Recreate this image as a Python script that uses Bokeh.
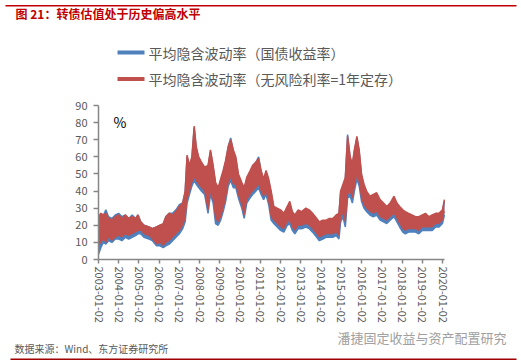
import pandas as pd
from bokeh.plotting import figure
from bokeh.models import ColumnDataSource, FixedTicker, Label, BoxAnnotation
from bokeh.embed import file_html
from bokeh.resources import INLINE

# ---------------- data (band envelopes) ----------------
dates = ["2003-01-02", "2003-02-15", "2003-04-01", "2003-05-15", "2003-07-01",
         "2003-09-01", "2003-11-01", "2004-01-01", "2004-03-01", "2004-05-01",
         "2004-07-01", "2004-09-01", "2004-11-01", "2004-12-15", "2005-02-01",
         "2005-04-01", "2005-07-01", "2005-09-01", "2005-11-15", "2006-01-15",
         "2006-03-15", "2006-05-01", "2006-07-01", "2006-09-01", "2006-11-01",
         "2007-01-01", "2007-03-01", "2007-04-15", "2007-05-20", "2007-07-01",
         "2007-08-15", "2007-09-25", "2007-11-01", "2007-12-15", "2008-02-01",
         "2008-04-01", "2008-06-01", "2008-07-15", "2008-09-01", "2008-10-15",
         "2008-12-01", "2009-01-15", "2009-03-01", "2009-04-15", "2009-06-01",
         "2009-07-15", "2009-09-01", "2009-10-15", "2009-12-01", "2010-02-01",
         "2010-03-15", "2010-05-01", "2010-07-01", "2010-08-15", "2010-10-15",
         "2010-12-01", "2011-01-15", "2011-03-01", "2011-04-15", "2011-06-01",
         "2011-07-15", "2011-09-01", "2011-11-01", "2012-01-01", "2012-03-01",
         "2012-05-01", "2012-06-15", "2012-08-01", "2012-09-15", "2012-11-15",
         "2013-01-15", "2013-04-01", "2013-06-01", "2013-08-01", "2013-10-15",
         "2013-12-01", "2014-02-01", "2014-04-01", "2014-06-01", "2014-08-01",
         "2014-10-01", "2014-11-20", "2014-12-20", "2015-02-01", "2015-03-15",
         "2015-04-25", "2015-06-10", "2015-07-20", "2015-08-25", "2015-10-10",
         "2015-11-20", "2016-01-01", "2016-02-15", "2016-04-01", "2016-06-01",
         "2016-08-01", "2016-10-01", "2016-12-01", "2017-02-01", "2017-04-01",
         "2017-06-01", "2017-08-10", "2017-10-01", "2017-11-20", "2018-01-15",
         "2018-03-01", "2018-05-01", "2018-07-01", "2018-09-01", "2018-11-01",
         "2019-01-01", "2019-03-01", "2019-05-01", "2019-07-01", "2019-09-01",
         "2019-11-01", "2020-01-01", "2020-02-05"]

# red: 平均隐含波动率（无风险利率=1年定存）, upper / lower envelope
red_hi = [25, 27, 26, 27, 24, 23, 25, 26, 24, 26,
          24, 25, 24, 26, 22, 20, 19, 18, 19, 20,
          21, 25, 27, 26, 28, 31, 33, 40, 61, 55,
          60, 78, 66, 60, 57, 54, 55, 64, 55, 45,
          42, 47, 52, 58, 66, 70, 64, 60, 50, 45,
          42, 48, 52, 55, 57, 59, 52, 47, 52, 47,
          40, 31, 30, 29, 27, 31, 34, 28, 26, 29,
          28, 30, 29, 27, 24, 22, 23, 23, 24, 24,
          26, 27, 40, 44, 48, 72, 60, 56, 64, 72,
          64, 50, 44, 40, 37, 38, 39, 35, 33, 31,
          33, 37, 33, 31, 29, 28, 27, 26, 25, 25,
          26, 27, 25, 26, 27, 27, 29, 35]
red_lo = [8, 10, 12, 10, 13, 11, 13, 14, 13, 15,
          14, 15, 16, 17, 17, 15, 14, 12, 9, 10,
          8, 10, 11, 13, 15, 17, 20, 24, 35, 40,
          45, 48, 46, 44, 42, 40, 29, 40, 35, 24,
          22, 25, 30, 36, 45, 48, 44, 44, 38, 32,
          26, 35, 38, 40, 42, 44, 40, 37, 40, 34,
          25, 23, 21, 19, 18, 22, 23, 19, 17, 20,
          20, 21, 20, 18, 15, 13, 14, 15, 15, 15,
          16, 14, 25, 27, 22, 38, 40, 36, 42, 50,
          45, 36, 32, 30, 28, 27, 28, 25, 24, 23,
          25, 27, 24, 21, 18, 17, 18, 18, 18, 17,
          19, 19, 19, 19, 21, 21, 23, 28]
# blue: 平均隐含波动率（国债收益率）, upper / lower envelope
blue_hi = [23, 26, 26, 29, 25, 24, 26, 27, 25, 26,
           24, 26, 24, 26, 22, 20, 19, 18, 19, 20,
           20, 25, 27, 27, 29, 32, 33, 39, 60, 54,
           59, 77, 65, 59, 56, 53, 54, 63, 54, 44,
           41, 46, 51, 57, 66, 71, 63, 59, 49, 44,
           41, 47, 51, 54, 57, 60, 51, 46, 51, 46,
           39, 30, 29, 28, 26, 30, 33, 27, 25, 28,
           27, 29, 28, 26, 23, 21, 22, 22, 23, 23,
           25, 26, 39, 43, 47, 73, 59, 55, 63, 71,
           63, 49, 43, 39, 36, 37, 38, 34, 32, 30,
           32, 36, 32, 30, 28, 27, 26, 25, 24, 24,
           25, 26, 24, 25, 26, 26, 28, 34]
blue_lo = [3, 7, 10, 9, 11, 10, 12, 12, 11, 13,
           12, 13, 14, 15, 15, 13, 12, 11, 8, 8,
           7, 8, 9, 11, 13, 15, 18, 22, 33, 38,
           43, 46, 44, 42, 40, 38, 27, 38, 33, 21,
           20, 23, 28, 34, 43, 46, 42, 42, 36, 30,
           24, 33, 36, 38, 40, 42, 38, 35, 38, 32,
           23, 21, 19, 17, 16, 20, 21, 17, 15, 18,
           18, 19, 18, 16, 13, 11, 12, 13, 13, 13,
           14, 12, 22, 25, 19, 36, 37, 33, 40, 47,
           43, 34, 30, 28, 26, 25, 26, 23, 22, 21,
           23, 25, 22, 19, 16, 15, 16, 16, 16, 15,
           17, 17, 17, 17, 19, 19, 21, 26]

x_tick_labels = ["2003-01-02", "2004-01-02", "2005-01-02", "2006-01-02",
                 "2007-01-02", "2008-01-02", "2009-01-02", "2010-01-02",
                 "2011-01-02", "2012-01-02", "2013-01-02", "2014-01-02",
                 "2015-01-02", "2016-01-02", "2017-01-02", "2018-01-02",
                 "2019-01-02", "2020-01-02"]
x_axis_end = "2020-02-10"
y_ticks = [0, 10, 20, 30, 40, 50, 60, 70, 80, 90]

series_names = ["平均隐含波动率（国债收益率）", "平均隐含波动率（无风险利率=1年定存）"]
title_text = "图 21：转债估值处于历史偏高水平"
source_text = "数据来源：Wind、东方证券研究所"
watermark_text = "潘捷固定收益与资产配置研究"

n = len(dates)
assert all(len(a) == n for a in (red_hi, red_lo, blue_hi, blue_lo))

BLUE = "#4F81BD"
RED = "#C0504D"
GRAY = "#595959"
FONT = "Noto Sans CJK SC"

W, H = 521, 363
# plot-area placement in pixels (page coordinates)
AX_FIRST_TICK_X, AX_LAST_TICK_X = 98, 442
AX_BOTTOM_Y, AX_TOP_Y = 259, 105


def to_ms(s):
    return pd.Timestamp(s).value / 1e6


xs = [to_ms(d) for d in dates]
tick_ms = [to_ms(t) for t in x_tick_labels]

ppm = (AX_LAST_TICK_X - AX_FIRST_TICK_X) / (tick_ms[-1] - tick_ms[0])
x0 = tick_ms[0] - AX_FIRST_TICK_X / ppm
x1 = tick_ms[0] + (W - AX_FIRST_TICK_X) / ppm
ppu = (AX_BOTTOM_Y - AX_TOP_Y) / (y_ticks[-1] - y_ticks[0])
y0 = y_ticks[0] - (H - AX_BOTTOM_Y) / ppu
y1 = y_ticks[-1] + AX_TOP_Y / ppu

src = ColumnDataSource(dict(x=xs, rh=red_hi, rl=red_lo, bh=blue_hi, bl=blue_lo))

p = figure(width=W, height=H, output_backend="svg", toolbar_location=None,
           x_range=(x0, x1), y_range=(y0, y1),
           min_border_left=0, min_border_right=0, min_border_top=0,
           min_border_bottom=0)
p.outline_line_color = None
p.grid.visible = False
p.background_fill_color = "white"
p.border_fill_color = "white"

p.varea(x="x", y1="bl", y2="bh", source=src, fill_color=BLUE)
p.line(x="x", y="bl", source=src, line_color=BLUE, line_width=1.5)
p.line(x="x", y="bh", source=src, line_color=BLUE, line_width=1.5)
p.varea(x="x", y1="rl", y2="rh", source=src, fill_color=RED)
p.line(x="x", y="rh", source=src, line_color=RED, line_width=1.5)
p.line(x="x", y="rl", source=src, line_color=RED, line_width=1)

# axes (drawn at fixed data locations so that the frame spans the whole canvas)
for ax in (p.xaxis[0], p.yaxis[0]):
    ax.axis_line_color = "#868686"
    ax.axis_line_width = 1.5
    ax.major_tick_line_color = "#868686"
    ax.major_tick_line_width = 1.5
    ax.minor_tick_line_color = None
    ax.major_tick_in = 0
    ax.major_label_text_color = GRAY
    ax.major_label_text_font = FONT
    ax.major_label_text_font_size = "11px"

p.yaxis.ticker = FixedTicker(ticks=y_ticks)
p.yaxis.fixed_location = tick_ms[0]
p.yaxis.bounds = (y_ticks[0], y_ticks[-1])
p.yaxis.major_tick_out = 5
p.yaxis.major_label_standoff = 6

p.xaxis.ticker = FixedTicker(ticks=tick_ms)
p.xaxis.fixed_location = y_ticks[0]
p.xaxis.bounds = (tick_ms[0], to_ms(x_axis_end))
p.xaxis.major_label_overrides = {t: l for t, l in zip(tick_ms, x_tick_labels)}
p.xaxis.major_label_orientation = "vertical"
p.xaxis.major_tick_out = 4
p.xaxis.major_label_standoff = 3


def label(x, y, text, size, color, bold=False):
    p.add_layout(Label(x=x, y=H - y, x_units="screen", y_units="screen", text=text,
                       text_font=FONT, text_font_size=size,
                       text_font_style="bold" if bold else "normal",
                       text_color=color, text_baseline="middle"))


def hline(xa, xb, ya, yb, color):
    p.add_layout(BoxAnnotation(left=xa, right=xb, top=H - ya, bottom=H - yb,
                               left_units="screen", right_units="screen",
                               top_units="screen", bottom_units="screen",
                               fill_color=color, fill_alpha=1, line_color=None))


# legend
hline(117, 144, 50, 54, BLUE)
label(148, 52, series_names[0], "14px", GRAY)
hline(117, 144, 76.5, 80.5, RED)
label(148, 78.5, series_names[1], "14px", GRAY)

label(15, 13, title_text, "12px", "#C00000", bold=True)
label(113, 121, "%", "14px", "black")
label(14, 348, source_text, "10px", GRAY)
label(337, 337, watermark_text, "13px", "#a0a0a0")

hline(5, 516, 4.5, 6, "#C00000")
hline(10, 516, 358, 359.5, "#A00000")

open("out.html", "w").write(file_html(p, INLINE))
